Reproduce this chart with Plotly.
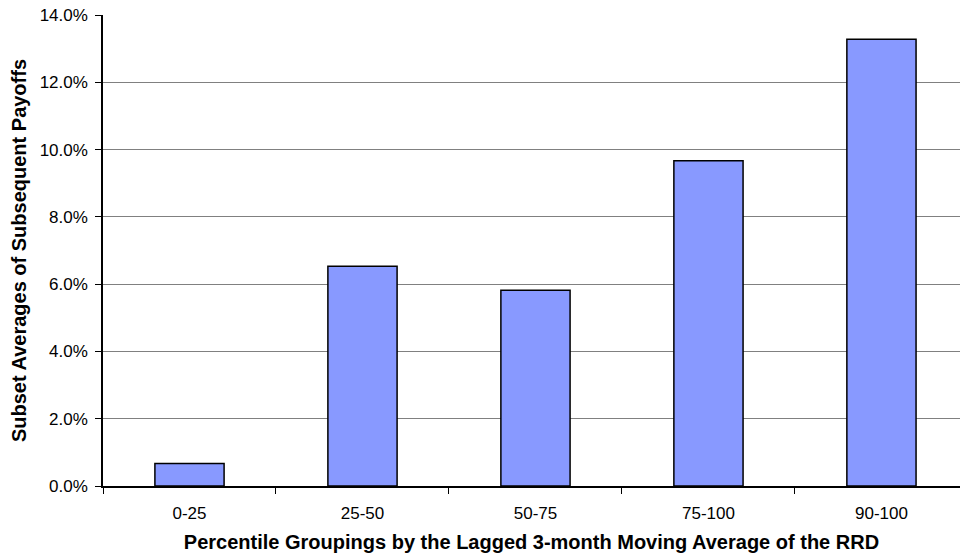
import plotly.graph_objects as go

# Percentile groups and their average subsequent payoffs (%)
groups = ["0-25", "25-50", "50-75", "75-100", "90-100"]
avg_payoff = [0.67, 6.53, 5.82, 9.67, 13.28]
y_ticks = [0, 2, 4, 6, 8, 10, 12, 14]
y_tick_text = [f"{v:.1f}%" for v in y_ticks]

fig = go.Figure(
    go.Bar(
        x=groups,
        y=avg_payoff,
        marker=dict(color="#8899ff", line=dict(color="#000000", width=1.5)),
        hoverinfo="x+y",
    )
)

font_family = "Liberation Sans, Arial, Helvetica, sans-serif"

fig.update_layout(
    width=960,
    height=557,
    margin=dict(l=103, r=0, t=15, b=71),
    plot_bgcolor="white",
    paper_bgcolor="white",
    bargap=0.6,
    showlegend=False,
    font=dict(family=font_family, size=17, color="#000000"),
    xaxis=dict(
        type="category",
        range=[-0.5, 4.454],
        showline=True,
        linecolor="#000000",
        linewidth=1.5,
        ticks="outside",
        tickson="boundaries",
        ticklen=6,
        tickcolor="#000000",
        tickfont=dict(size=17),
        ticklabelstandoff=11,
        title=dict(
            text="<b>Percentile Groupings by the Lagged 3-month Moving Average of the RRD</b>",
            font=dict(size=20),
            standoff=13,
        ),
        automargin=False,
        showgrid=False,
        fixedrange=True,
    ),
    yaxis=dict(
        range=[0, 14],
        tickvals=y_ticks,
        ticktext=y_tick_text,
        showline=True,
        linecolor="#000000",
        linewidth=1.5,
        ticks="outside",
        ticklen=6,
        tickcolor="#000000",
        tickfont=dict(size=17),
        ticklabelstandoff=4,
        showgrid=True,
        gridcolor="#808080",
        gridwidth=1,
        zeroline=False,
        title=dict(
            text="<b>Subset Averages of Subsequent Payoffs</b>",
            font=dict(size=20),
            standoff=8,
        ),
        automargin=False,
        fixedrange=True,
    ),
)

fig.write_html("out.html")
